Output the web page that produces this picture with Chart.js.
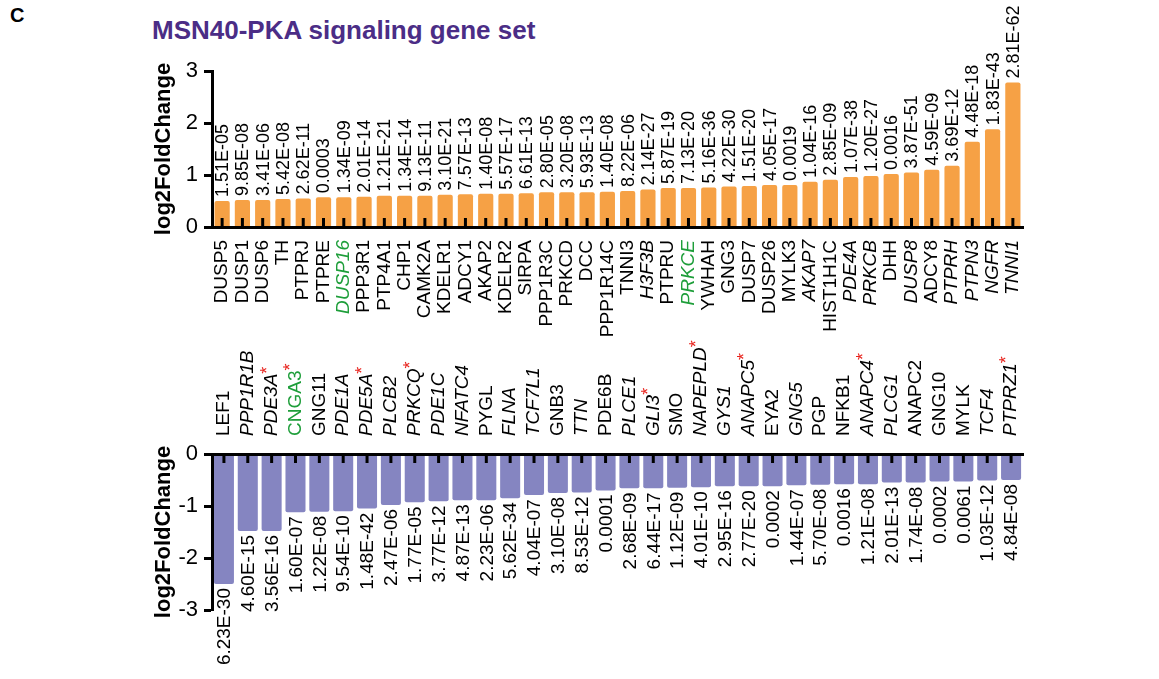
<!DOCTYPE html>
<html>
<head>
<meta charset="utf-8">
<script src="https://cdn.jsdelivr.net/npm/chart.js@4/dist/chart.umd.min.js"></script>
<style>
  html, body { margin: 0; padding: 0; background: #fff; }
  #wrap { position: relative; width: 1159px; height: 679px; overflow: hidden; font-family: 'Liberation Sans', Arial, sans-serif; }
  #panel { position: absolute; left: 10px; top: 4px; font-size: 20px; font-weight: bold; }
  #title { position: absolute; left: 152px; top: 17px; font-size: 26px; font-weight: bold; color: #4B2D86; line-height: 1; white-space: nowrap; }
  .box { position: absolute; left: 0; width: 1159px; }
  #boxUp { top: 0; height: 340px; }
  #boxDown { top: 340px; height: 339px; }
</style>
</head>
<body>
<div id="wrap">
  <div id="panel">C</div>
  <div id="title">MSN40-PKA signaling gene set</div>
  <div class="box" id="boxUp"><canvas id="upChart" width="1159" height="340"></canvas></div>
  <div class="box" id="boxDown"><canvas id="downChart" width="1159" height="339"></canvas></div>
</div>
<script>
const FONT = "'Liberation Sans', Arial, sans-serif";

// up-regulated genes
const upGenes = ['DUSP5', 'DUSP1', 'DUSP6', 'TH', 'PTPRJ', 'PTPRE', 'DUSP16', 'PPP3R1', 'PTP4A1', 'CHP1',
  'CAMK2A', 'KDELR1', 'ADCY1', 'AKAP2', 'KDELR2', 'SIRPA', 'PPP1R3C', 'PRKCD', 'DCC', 'PPP1R14C',
  'TNNI3', 'H3F3B', 'PTPRU', 'PRKCE', 'YWHAH', 'GNG3', 'DUSP7', 'DUSP26', 'MYLK3', 'AKAP7',
  'HIST1H1C', 'PDE4A', 'PRKCB', 'DHH', 'DUSP8', 'ADCY8', 'PTPRH', 'PTPN3', 'NGFR', 'TNNI1'];
const upLfc = [0.50, 0.52, 0.52, 0.54, 0.55, 0.57, 0.57, 0.58, 0.60, 0.60,
  0.60, 0.62, 0.63, 0.64, 0.64, 0.65, 0.67, 0.67, 0.67, 0.68,
  0.69, 0.72, 0.75, 0.75, 0.76, 0.78, 0.79, 0.81, 0.81, 0.87,
  0.91, 0.96, 0.98, 1.02, 1.05, 1.10, 1.18, 1.64, 1.88, 2.78];
const upPval = ['1.51E-05', '9.85E-08', '3.41E-06', '5.42E-08', '2.62E-11', '0.0003', '1.34E-09', '2.01E-14', '1.21E-21', '1.34E-14',
  '9.13E-11', '3.10E-21', '7.57E-13', '1.40E-08', '5.57E-17', '6.61E-13', '2.80E-05', '3.20E-08', '5.93E-13', '1.40E-08',
  '8.22E-06', '2.14E-27', '5.87E-19', '7.13E-20', '5.16E-36', '4.22E-30', '1.51E-20', '4.05E-17', '0.0019', '1.04E-16',
  '2.85E-09', '1.07E-38', '1.20E-27', '0.0016', '3.87E-51', '4.59E-09', '3.69E-12', '4.48E-18', '1.83E-43', '2.81E-62'];
const upItalic = ['DUSP16', 'H3F3B', 'PRKCE', 'AKAP7', 'PDE4A', 'PRKCB', 'DUSP8', 'PTPRH', 'PTPN3', 'NGFR', 'TNNI1'];
const upGreen = ['DUSP16', 'PRKCE'];

// down-regulated genes
const downGenes = ['LEF1', 'PPP1R1B', 'PDE3A', 'CNGA3', 'GNG11', 'PDE1A', 'PDE5A', 'PLCB2', 'PRKCQ', 'PDE1C',
  'NFATC4', 'PYGL', 'FLNA', 'TCF7L1', 'GNB3', 'TTN', 'PDE6B', 'PLCE1', 'GLI3', 'SMO',
  'NAPEPLD', 'GYS1', 'ANAPC5', 'EYA2', 'GNG5', 'PGP', 'NFKB1', 'ANAPC4', 'PLCG1', 'ANAPC2',
  'GNG10', 'MYLK', 'TCF4', 'PTPRZ1'];
const downLfc = [-2.50, -1.48, -1.48, -1.12, -1.11, -1.10, -1.05, -0.98, -0.93, -0.91,
  -0.89, -0.89, -0.85, -0.79, -0.75, -0.74, -0.70, -0.66, -0.66, -0.65,
  -0.64, -0.62, -0.62, -0.62, -0.60, -0.59, -0.58, -0.58, -0.55, -0.55,
  -0.53, -0.53, -0.51, -0.50];
const downPval = ['6.23E-30', '4.60E-15', '3.56E-16', '1.60E-07', '1.22E-08', '9.54E-10', '1.48E-42', '2.47E-06', '1.77E-05', '3.77E-12',
  '4.87E-13', '2.23E-06', '5.62E-34', '4.04E-07', '3.10E-08', '8.53E-12', '0.0001', '2.68E-09', '6.44E-17', '1.12E-09',
  '4.01E-10', '2.95E-16', '2.77E-20', '0.0002', '1.44E-07', '5.70E-08', '0.0016', '1.21E-08', '2.01E-13', '1.74E-08',
  '0.0002', '0.0061', '1.03E-12', '4.84E-08'];
const downItalic = ['PPP1R1B', 'PDE3A', 'PDE1A', 'PDE5A', 'PLCB2', 'PRKCQ', 'PDE1C', 'NFATC4', 'FLNA', 'TCF7L1',
  'TTN', 'PLCE1', 'GLI3', 'NAPEPLD', 'GYS1', 'ANAPC5', 'GNG5', 'ANAPC4', 'PLCG1', 'TCF4', 'PTPRZ1'];
const downGreen = ['CNGA3'];
const downStar = ['PDE3A', 'CNGA3', 'PDE5A', 'PRKCQ', 'GLI3', 'NAPEPLD', 'ANAPC5', 'ANAPC4', 'PTPRZ1'];

const upTicks = [0, 1, 2, 3];
const downTicks = [0, -1, -2, -3];

function geneFont(italicList) {
  return ctx => ({ family: FONT, size: 19, lineHeight: 1.2, style: italicList.includes(ctx.tick ? ctx.tick.label : '') ? 'italic' : 'normal' });
}

// p-values on bars, short black ticks at the base, red asterisks
const barExtras = {
  id: 'barExtras',
  afterDatasetsDraw(chart, args, opts) {
    const { ctx, scales: { x, y } } = chart;
    const meta = chart.getDatasetMeta(0);
    const zero = y.getPixelForValue(0);
    const up = opts.side === 'up';
    ctx.save();
    ctx.strokeStyle = '#000';
    ctx.lineWidth = 3;
    meta.data.forEach((bar, i) => {
      const px = x.getPixelForValue(i);
      ctx.beginPath();
      ctx.moveTo(px, zero);
      ctx.lineTo(px, up ? zero - 9 : zero + 9);
      ctx.stroke();
    });
    ctx.font = opts.size + 'px ' + FONT;
    ctx.fillStyle = '#000';
    ctx.textBaseline = 'middle';
    meta.data.forEach((bar, i) => {
      ctx.save();
      ctx.translate(bar.x, up ? bar.y - 4 : bar.y + 4);
      ctx.rotate(-Math.PI / 2);
      ctx.textAlign = up ? 'left' : 'right';
      ctx.fillText(opts.pvals[i], 0, 1);
      ctx.restore();
    });
    ctx.restore();
  },
  afterDraw(chart, args, opts) {
    if (!opts.stars) return;
    const { ctx, scales: { x } } = chart;
    ctx.save();
    x.ticks.forEach((t, i) => {
      if (!opts.stars.includes(t.label)) return;
      const it = opts.italic.includes(t.label) ? 'italic ' : '';
      ctx.font = it + '19px ' + FONT;
      const w = ctx.measureText(t.label).width;
      ctx.translate(x.getPixelForValue(i), x.bottom - x.options.ticks.padding);
      ctx.rotate(-Math.PI / 2);
      ctx.font = '18px ' + FONT;
      ctx.fillStyle = '#E8251F';
      ctx.textAlign = 'left';
      ctx.textBaseline = 'middle';
      ctx.fillText('*', w + 8, -4);
      ctx.setTransform(1, 0, 0, 1, 0, 0);
    });
    ctx.restore();
  }
};

function yAxis(min, max, tickVals) {
  return {
    min: min, max: max,
    afterBuildTicks: s => { s.ticks = tickVals.map(v => ({ value: v })); },
    afterFit: s => { s.width = 61; },
    ticks: { font: { family: FONT, size: 22 }, color: '#000', padding: 6 },
    grid: { drawOnChartArea: false, drawTicks: true, tickLength: 8, tickWidth: 3, color: '#000' },
    border: { display: true, width: 3, color: '#000', z: 1 },
    title: { display: true, text: 'log2FoldChange', color: '#000', font: { family: FONT, size: 22, weight: 'bold' }, padding: { top: 0, bottom: 0 } }
  };
}

new Chart(document.getElementById('upChart'), {
  type: 'bar',
  data: {
    labels: upGenes,
    datasets: [{ data: upLfc, backgroundColor: '#F6A145', borderRadius: 2, borderSkipped: 'start', categoryPercentage: 1, barPercentage: 0.75 }]
  },
  options: {
    responsive: false, animation: false,
    layout: { padding: { left: 151, right: 136, top: 71, bottom: 0 } },
    plugins: { legend: { display: false }, tooltip: { enabled: false }, barExtras: { side: 'up', size: 18, pvals: upPval } },
    scales: {
      x: {
        afterFit: s => { s.height = 113; },
        grid: { display: false },
        border: { display: true, width: 3, color: '#000', z: 1 },
        ticks: {
          autoSkip: false, minRotation: 90, maxRotation: 90, padding: 5,
          font: geneFont(upItalic),
          color: ctx => upGreen.includes(ctx.tick ? ctx.tick.label : '') ? '#1E9E3A' : '#000'
        }
      },
      y: yAxis(0, 3, upTicks)
    }
  },
  plugins: [barExtras]
});

new Chart(document.getElementById('downChart'), {
  type: 'bar',
  data: {
    labels: downGenes,
    datasets: [{ data: downLfc, backgroundColor: '#8585C1', borderRadius: 2, borderSkipped: 'start', categoryPercentage: 1, barPercentage: 0.84 }]
  },
  options: {
    responsive: false, animation: false,
    layout: { padding: { left: 151, right: 136, top: 0, bottom: 69 } },
    plugins: { legend: { display: false }, tooltip: { enabled: false }, barExtras: { side: 'down', size: 19, pvals: downPval, stars: downStar, italic: downItalic } },
    scales: {
      x: {
        position: 'top',
        afterFit: s => { s.height = 114; },
        grid: { display: false },
        border: { display: true, width: 3, color: '#000', z: 1 },
        ticks: {
          autoSkip: false, minRotation: 90, maxRotation: 90, padding: 10,
          labelOffset: 22.8, // top-axis rotated labels sit one line height left of the tick
          font: geneFont(downItalic),
          color: ctx => downGreen.includes(ctx.tick ? ctx.tick.label : '') ? '#1E9E3A' : '#000'
        }
      },
      y: yAxis(-3, 0, downTicks)
    }
  },
  plugins: [barExtras]
});
</script>
</body>
</html>
